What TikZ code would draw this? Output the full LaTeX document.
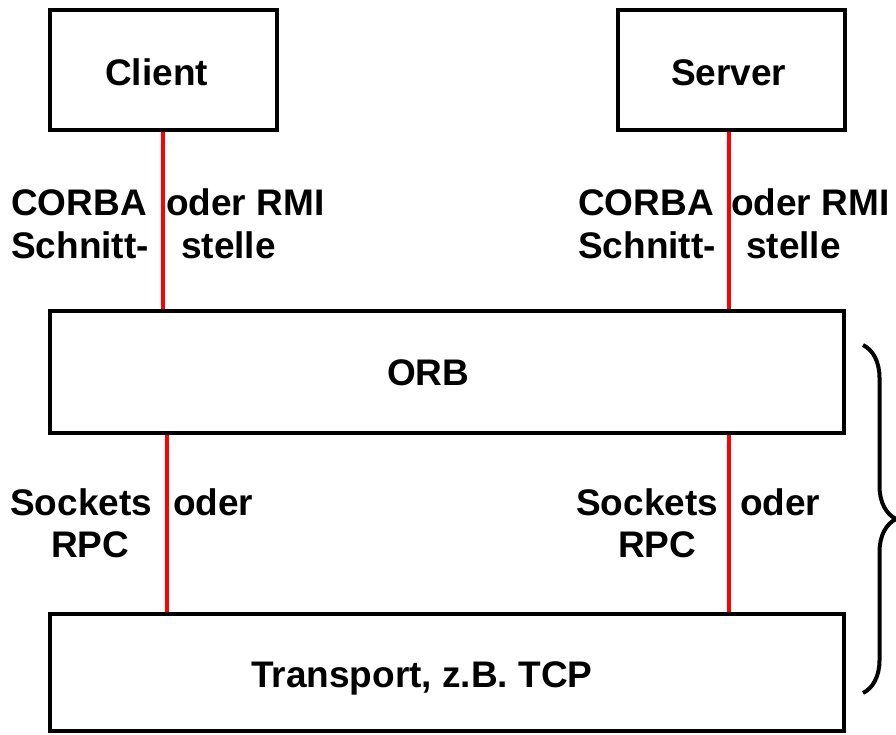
\documentclass[tikz,border=0pt]{standalone}
\usepackage{fontspec}
\setmainfont{Liberation Sans}
\usetikzlibrary{decorations.pathreplacing}

\begin{document}
\begin{tikzpicture}[x=1pt, y=-1pt,
    layer/.style={rectangle, draw, line width=4pt, inner sep=0pt},
    word/.style={anchor=base west, inner sep=0pt, font=\fontsize{37}{44}\selectfont\bfseries},
    iface/.style={draw=red, line width=4pt}]
    \useasboundingbox (0,0) rectangle (896,734);

    % boxes
    \node[layer, minimum width=226.5pt, minimum height=120pt] (client) at (163.25,70) {};
    \node[layer, minimum width=227.5pt, minimum height=120pt] (server) at (731.25,70) {};
    \node[layer, minimum width=794pt, minimum height=121.5pt] (orb) at (447,371.75) {};
    \node[layer, minimum width=794pt, minimum height=117pt] (transport) at (447,672) {};

    % box texts
    \node[word] (clienttext) at (105,85) {Client};
    \node[word] (servertext) at (671,85) {Server};
    \node[word] (orbtext) at (387,385) {ORB};
    \node[word] (transporttext) at (251,687) {Transport, z.B. TCP};

    % upper labels
    \node[word] (corbaL) at (11,215) {CORBA};
    \node[word] (rmiL) at (166,215) {oder RMI};
    \node[word] (schnittL) at (11,258) {Schnitt-};
    \node[word] (stelleL) at (181,258) {stelle};
    \node[word] (corbaR) at (578,215) {CORBA};
    \node[word] (rmiR) at (731,215) {oder RMI};
    \node[word] (schnittR) at (578,258) {Schnitt-};
    \node[word] (stelleR) at (746,258) {stelle};

    % lower labels
    \node[word] (socketsL) at (10,515) {Sockets};
    \node[word] (oderL) at (173,515) {oder};
    \node[word] (rpcL) at (51,557) {RPC};
    \node[word] (socketsR) at (576,515) {Sockets};
    \node[word] (oderR) at (740,515) {oder};
    \node[word] (rpcR) at (618,557) {RPC};

    % interfaces
    \coordinate (lowL) at (167,0);
    \coordinate (lowR) at (729,0);
    \draw[iface] (client.south) -- (client.south |- orb.north);
    \draw[iface] (server.south -| lowR) -- (orb.north -| lowR);
    \draw[iface] (orb.south -| lowL) -- (transport.north -| lowL);
    \draw[iface] (orb.south -| lowR) -- (transport.north -| lowR);

    % brace
    \draw[line width=4pt, decorate, decoration={brace, amplitude=33pt}] (863,345) -- (863,693);
\end{tikzpicture}
\end{document}
